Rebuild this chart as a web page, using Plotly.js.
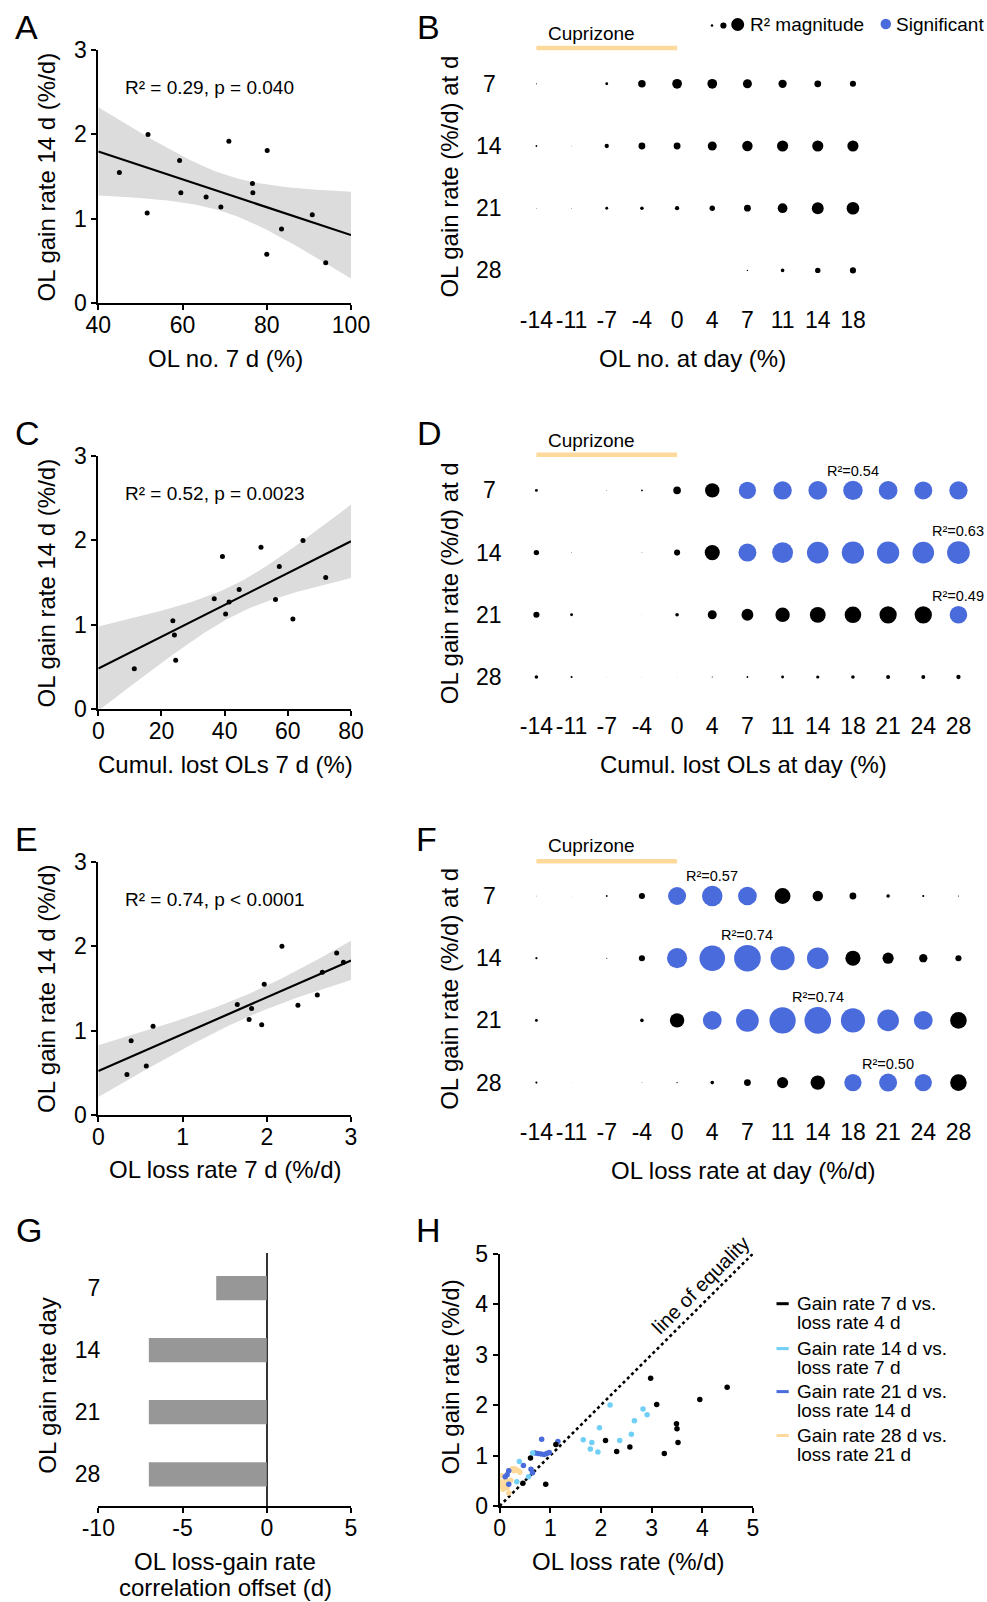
<!DOCTYPE html>
<html><head><meta charset="utf-8">
<script src="https://cdn.plot.ly/plotly-3.0.1.min.js"></script>
<style>html,body{margin:0;padding:0;background:#fff}#chart{width:987px;height:1602px}</style>
</head><body><div id="chart"></div>
<script>
// ================= DATA =================
// Panel A: OL no. at 7 d (%) vs OL gain rate 14 d (%/d)
const olNo7   = [45.0,51.8,51.6,59.3,59.6,65.6,69.1,71.0,76.6,76.7,80.1,80.0,83.5,90.8,94.0];
const gainA   = [1.55,2.00,1.07,1.69,1.31,1.26,1.14,1.92,1.42,1.31,1.81,0.58,0.88,1.05,0.48];
// Panel C: cumulative lost OLs 7 d (%) vs gain rate 14 d
const cumLost7 = [11.4,23.6,24.1,24.5,36.7,39.3,40.3,41.4,44.6,51.5,56.1,57.3,61.6,64.8,72.0];
const gainC    = [0.48,1.05,0.88,0.58,1.31,1.81,1.13,1.27,1.42,1.92,1.30,1.69,1.07,2.00,1.56];
// Panel E: OL loss rate 7 d (%/d) vs gain rate 14 d
const lossRate7 = [0.34,0.39,0.57,0.65,1.65,1.79,1.82,1.94,1.97,2.18,2.37,2.60,2.66,2.83,2.91];
const gainE     = [0.48,0.88,0.58,1.05,1.31,1.13,1.26,1.07,1.55,2.00,1.30,1.42,1.69,1.92,1.81];
const statsA = 'R² = 0.29, p = 0.040';
const statsC = 'R² = 0.52, p = 0.0023';
const statsE = 'R² = 0.74, p < 0.0001';

// Dot matrices: R² per (gain-rate day, predictor day)
const gainDays = ['7','14','21','28'];
const colsB  = ['-14','-11','-7','-4','0','4','7','11','14','18'];
const colsDF = ['-14','-11','-7','-4','0','4','7','11','14','18','21','24','28'];
const cuprizoneSpan = ['-14','0'];

const bR2_7  = [0.03,0.00,0.08,0.21,0.27,0.27,0.25,0.23,0.19,0.17];
const bR2_14 = [0.05,0.02,0.12,0.19,0.19,0.25,0.29,0.31,0.31,0.31];
const bR2_21 = [0.02,0.02,0.08,0.10,0.12,0.15,0.19,0.27,0.33,0.35];
const bR2_28 = [0.00,0.01,0.01,0.01,0.01,0.01,0.04,0.10,0.15,0.17];
const bSig_7  = [0,0,0,0,0,0,0,0,0,0];
const bSig_14 = [0,0,0,0,0,0,0,0,0,0];
const bSig_21 = [0,0,0,0,0,0,0,0,0,0];
const bSig_28 = [0,0,0,0,0,0,0,0,0,0];

const dR2_7  = [0.08,0.01,0.02,0.05,0.21,0.40,0.48,0.51,0.52,0.54,0.52,0.50,0.51];
const dR2_14 = [0.15,0.02,0.00,0.02,0.17,0.42,0.50,0.58,0.60,0.62,0.62,0.60,0.63];
const dR2_21 = [0.17,0.08,0.00,0.01,0.10,0.25,0.33,0.40,0.44,0.46,0.48,0.48,0.49];
const dR2_28 = [0.10,0.06,0.01,0.01,0.01,0.03,0.05,0.08,0.09,0.10,0.11,0.11,0.12];
const dSig_7  = [0,0,0,0,0,0,1,1,1,1,1,1,1];
const dSig_14 = [0,0,0,0,0,0,1,1,1,1,1,1,1];
const dSig_21 = [0,0,0,0,0,0,0,0,0,0,0,0,1];
const dSig_28 = [0,0,0,0,0,0,0,0,0,0,0,0,0];

const fR2_7  = [0.02,0.01,0.05,0.17,0.50,0.57,0.52,0.44,0.29,0.19,0.10,0.06,0.03];
const fR2_14 = [0.06,0.00,0.03,0.17,0.56,0.71,0.74,0.67,0.60,0.42,0.31,0.23,0.17];
const fR2_21 = [0.08,0.01,0.01,0.10,0.40,0.52,0.63,0.73,0.74,0.67,0.60,0.52,0.46];
const fR2_28 = [0.06,0.01,0.00,0.02,0.04,0.10,0.19,0.31,0.40,0.48,0.50,0.48,0.46];
const fSig_7  = [0,0,0,0,1,1,1,0,0,0,0,0,0];
const fSig_14 = [0,0,0,0,1,1,1,1,1,0,0,0,0];
const fSig_21 = [0,0,0,0,0,1,1,1,1,1,1,1,0];
const fSig_28 = [0,0,0,0,0,0,0,0,0,1,1,1,0];

// Panel G
const offsetDays = ['7','14','21','28'];
const offsets    = [-3,-7,-7,-7];

// Panel H
const h7x  = [2.98,3.10,3.95,4.49,3.49,3.50,3.52,2.09,2.57,2.31,3.25,1.11,0.61,0.46,0.91];
const h7y  = [2.53,2.01,2.11,2.35,1.63,1.53,1.26,1.30,1.17,1.08,1.04,1.22,0.95,0.45,0.43];
const h14x = lossRate7, h14y = gainE;
const h21x = [0.83,1.15,0.70,0.76,0.82,0.88,0.93,0.98,0.47,0.62,0.65,0.18,0.15,0.11,0.18];
const h21y = [1.32,1.28,1.05,1.04,1.03,1.02,1.04,1.06,0.80,0.73,0.66,0.70,0.62,0.58,0.43];
const h28x = [0.04,0.02,0.04,0.07,0.10,0.15,0.18,0.22,0.25,0.30,0.33,0.37,0.40,0.12,0.28];
const h28y = [0.60,0.48,0.38,0.33,0.42,0.36,0.26,0.51,0.74,0.74,0.72,0.70,0.67,0.52,0.70];
const hNames = ['Gain rate 7 d vs.\nloss rate 4 d','Gain rate 14 d vs.\nloss rate 7 d',
                'Gain rate 21 d vs.\nloss rate 14 d','Gain rate 28 d vs.\nloss rate 21 d'];
const equalityRange = [0, 5];

// ================= STYLE / LAYOUT =================
const PW = 987, PH = 1602;
const px = v => v / PW, py = v => 1 - v / PH;
const FONT = 'Liberation Sans, Arial, Helvetica, sans-serif';
const BLUE = '#4a6bdb', CYAN = '#6fcff7', YEL = '#fdd99b', GREY_BAND = '#dcdcdc';
const TICK = 23, TITLE = 24;

const traces = [];
const annotations = [];
const shapes = [];

function ann(text, x, y, o) {
  annotations.push(Object.assign({text, x: px(x), y: py(y), xref: 'paper', yref: 'paper',
    showarrow: false, xanchor: 'center', yanchor: 'middle',
    font: {family: FONT, size: TITLE, color: '#000'}}, o || {}));
}

function linAxis(d0, d1, range, tickvals, anchor, isY) {
  return {domain: isY ? [py(d1), py(d0)] : [px(d0), px(d1)], range, tickvals,
    ticktext: tickvals.map(String),
    showline: true, linecolor: '#000', linewidth: 2, ticks: 'outside', ticklen: 5, tickwidth: 2,
    tickcolor: '#000', showgrid: false, zeroline: false, anchor, fixedrange: true,
    ticklabelstandoff: isY ? 0 : -5,
    tickfont: {family: FONT, size: TICK, color: '#000'}};
}

// regression with 95% confidence band
function regression(xs, ys, xr, xa, ya) {
  const n = xs.length;
  const mx = xs.reduce((a, b) => a + b, 0) / n, my = ys.reduce((a, b) => a + b, 0) / n;
  let sxx = 0, sxy = 0;
  for (let i = 0; i < n; i++) { sxx += (xs[i] - mx) ** 2; sxy += (xs[i] - mx) * (ys[i] - my); }
  const b = sxy / sxx, a = my - b * mx;
  let ss = 0;
  for (let i = 0; i < n; i++) ss += (ys[i] - a - b * xs[i]) ** 2;
  const s = Math.sqrt(ss / (n - 2)), t = 2.160;
  const gx = [], lo = [], hi = [];
  const N = 80;
  for (let k = 0; k <= N; k++) {
    const x = xr[0] + (xr[1] - xr[0]) * k / N;
    const yh = a + b * x, se = s * Math.sqrt(1 / n + (x - mx) ** 2 / sxx);
    gx.push(x); lo.push(yh - t * se); hi.push(yh + t * se);
  }
  traces.push({type: 'scatter', mode: 'lines', x: gx.concat(gx.slice().reverse()),
    y: hi.concat(lo.slice().reverse()), fill: 'toself', fillcolor: GREY_BAND,
    line: {width: 0}, xaxis: xa, yaxis: ya, hoverinfo: 'skip', showlegend: false});
  traces.push({type: 'scatter', mode: 'lines', x: xr, y: xr.map(x => a + b * x),
    line: {color: '#000', width: 2.2}, xaxis: xa, yaxis: ya, showlegend: false});
  traces.push({type: 'scatter', mode: 'markers', x: xs, y: ys, cliponaxis: false,
    marker: {color: '#000', size: 5, opacity: 1}, xaxis: xa, yaxis: ya, showlegend: false});
}

const layout = {width: PW, height: PH, margin: {l: 0, r: 0, t: 0, b: 0},
  paper_bgcolor: '#fff', plot_bgcolor: 'rgba(0,0,0,0)', showlegend: false,
  font: {family: FONT, color: '#000'}};

// ---- A ----
layout.xaxis  = linAxis(98.3, 351, [40, 100], [40, 60, 80, 100], 'y');
layout.yaxis  = linAxis(50, 303.3, [0, 3], [0, 1, 2, 3], 'x', true);
regression(olNo7, gainA, [40, 100], 'x', 'y');
ann(statsA, 123, 87, {xanchor: 'left', font: {family: FONT, size: 19, color: '#000'}});
ann('OL no. 7 d (%)', 225, 358.5);
ann('OL gain rate 14 d (%/d)', 46.7, 176.7, {textangle: -90});
// ---- C ----
layout.xaxis3 = linAxis(98.3, 351, [0, 80], [0, 20, 40, 60, 80], 'y3');
layout.yaxis3 = linAxis(456, 709.3, [0, 3], [0, 1, 2, 3], 'x3', true);
regression(cumLost7, gainC, [0, 80], 'x3', 'y3');
ann(statsC, 123, 493.3, {xanchor: 'left', font: {family: FONT, size: 19, color: '#000'}});
ann('Cumul. lost OLs 7 d (%)', 225, 764);
ann('OL gain rate 14 d (%/d)', 46.7, 582.7, {textangle: -90});
// ---- E ----
layout.xaxis5 = linAxis(98.3, 351, [0, 3], [0, 1, 2, 3], 'y5');
layout.yaxis5 = linAxis(861.7, 1115, [0, 3], [0, 1, 2, 3], 'x5', true);
regression(lossRate7, gainE, [0, 3], 'x5', 'y5');
ann(statsE, 123, 899.3, {xanchor: 'left', font: {family: FONT, size: 19, color: '#000'}});
ann('OL loss rate 7 d (%/d)', 225, 1169);
ann('OL gain rate 14 d (%/d)', 46.7, 988.3, {textangle: -90});

// ---- dot matrices ----
function dotPanel(n, cols, r2rows, sigrows, x0, top, xTitle, xTitleX, xTitleY, cupY, cupTextY, labels) {
  const colW = 35.17, rowH = 62.2;
  const xa = 'x' + n, ya = 'y' + n;
  layout['xaxis' + n] = {domain: [px(x0 - colW / 2), px(x0 + colW * (cols.length - 0.5))],
    type: 'category', categoryorder: 'array', categoryarray: cols, range: [-0.5, cols.length - 0.5],
    showline: false, ticks: '', showgrid: false, zeroline: false, anchor: ya, fixedrange: true,
    ticklabelstandoff: 2, tickfont: {family: FONT, size: TICK, color: '#000'}};
  layout['yaxis' + n] = {domain: [py(top + rowH * 3.5), py(top - rowH / 2)],
    type: 'category', categoryorder: 'array', categoryarray: gainDays, range: [3.5, -0.5],
    showline: false, ticks: '', showgrid: false, zeroline: false, anchor: xa, fixedrange: true,
    showticklabels: false};
  // row labels, centred as in the original figure
  gainDays.forEach((d, r) => annotations.push({text: d, x: px(489.4), y: r, xref: 'paper', yref: ya,
    showarrow: false, xanchor: 'center', yanchor: 'middle', font: {family: FONT, size: TICK, color: '#000'}}));
  const x = [], y = [], s = [], c = [];
  r2rows.forEach((row, r) => row.forEach((v, i) => {
    x.push(cols[i]); y.push(gainDays[r]); s.push(v); c.push(sigrows[r][i] ? BLUE : '#000');
  }));
  traces.push({type: 'scatter', mode: 'markers', x, y, xaxis: xa, yaxis: ya, cliponaxis: false,
    marker: {size: s, sizemode: 'diameter', sizeref: 1 / 36, sizemin: 0, color: c, opacity: 1,
      line: {width: 0}}, showlegend: false});
  if (labels) {
    r2rows.forEach((row, r) => {
      let best = -1;
      row.forEach((v, i) => { if (sigrows[r][i] && (best < 0 || v >= row[best])) best = i; });
      if (best >= 0) annotations.push({text: 'R²=' + row[best].toFixed(2), x: best, y: r,
        xref: xa, yref: ya, showarrow: false, yshift: 18 * row[best] + 10,
        font: {family: FONT, size: 14.5, color: '#000'}});
    });
  }
  // cuprizone bar
  shapes.push({type: 'line', xref: xa, yref: 'paper', x0: cols.indexOf(cuprizoneSpan[0]),
    x1: cols.indexOf(cuprizoneSpan[1]), y0: py(cupY), y1: py(cupY),
    line: {color: YEL, width: 4.5}});
  ann('Cuprizone', 545.6, cupTextY, {xanchor: 'left', font: {family: FONT, size: 19, color: '#000'}});
  ann(xTitle, xTitleX, xTitleY);
  ann('OL gain rate (%/d) at d', 449.5, top + rowH * 1.5, {textangle: -90});
}
dotPanel(2, colsB, [bR2_7, bR2_14, bR2_21, bR2_28], [bSig_7, bSig_14, bSig_21, bSig_28],
  536.4, 83.8, 'OL no. at day (%)', 692.2, 358.6, 48, 33.7, false);
dotPanel(4, colsDF, [dR2_7, dR2_14, dR2_21, dR2_28], [dSig_7, dSig_14, dSig_21, dSig_28],
  536.4, 490.4, 'Cumul. lost OLs at day (%)', 743.3, 764.2, 454.7, 440.4, true);
dotPanel(6, colsDF, [fR2_7, fR2_14, fR2_21, fR2_28], [fSig_7, fSig_14, fSig_21, fSig_28],
  536.4, 896, 'OL loss rate at day (%/d)', 743.8, 1170.9, 861.3, 846, true);

// B legend
function circ(cx, cy, d, color) {
  shapes.push({type: 'circle', xref: 'paper', yref: 'paper', xsizemode: 'pixel', ysizemode: 'pixel',
    xanchor: px(cx), yanchor: py(cy), x0: -d / 2, x1: d / 2, y0: -d / 2, y1: d / 2,
    fillcolor: color, line: {width: 0}});
}
circ(712, 25.5, 2.6, '#000'); circ(723.4, 25.5, 6.2, '#000'); circ(737.7, 24.5, 13, '#000');
ann('R² magnitude', 748, 24.5, {xanchor: 'left', font: {family: FONT, size: 19, color: '#000'}});
circ(885.8, 24, 10.5, BLUE);
ann('Significant', 894, 24.5, {xanchor: 'left', font: {family: FONT, size: 19, color: '#000'}});

// ---- G ----
layout.xaxis7 = linAxis(98.3, 351, [-10, 5], [-10, -5, 0, 5], 'y7');
layout.xaxis7.zeroline = true; layout.xaxis7.zerolinecolor = '#333'; layout.xaxis7.zerolinewidth = 1.5;
layout.yaxis7 = {domain: [py(1506), py(1253)], type: 'category', categoryorder: 'array',
  categoryarray: offsetDays, range: [3.51, -0.564], showline: false, ticks: '', showgrid: false,
  zeroline: false, anchor: 'x7', fixedrange: true, ticklabelstandoff: -3,
  tickfont: {family: FONT, size: TICK, color: '#000'}};
traces.push({type: 'bar', orientation: 'h', x: offsets, y: offsetDays, width: 0.39,
  marker: {color: '#979797', line: {width: 0}}, xaxis: 'x7', yaxis: 'y7', showlegend: false});
ann('OL loss-gain rate', 225, 1561);
ann('correlation offset (d)', 225, 1587);
ann('OL gain rate day', 46.7, 1385, {textangle: -90});

// ---- H ----
layout.xaxis8 = linAxis(499.6, 753, [0, 5], [0, 1, 2, 3, 4, 5], 'y8');
layout.yaxis8 = linAxis(1253.6, 1506, [0, 5], [0, 1, 2, 3, 4, 5], 'x8', true);
traces.push({type: 'scatter', mode: 'lines', x: equalityRange, y: equalityRange,
  line: {color: '#000', width: 2.6, dash: 'dot'}, xaxis: 'x8', yaxis: 'y8', showlegend: false});
const hSets = [[h7x, h7y, '#000'], [h14x, h14y, CYAN], [h21x, h21y, BLUE], [h28x, h28y, YEL]];
hSets.slice().reverse().forEach(([xs, ys, col]) => traces.push({type: 'scatter', mode: 'markers',
  x: xs, y: ys, cliponaxis: false, marker: {color: col, size: 5.5, opacity: 1, line: {width: 0}},
  xaxis: 'x8', yaxis: 'y8', showlegend: false}));
annotations.push({text: 'line of equality', x: 3.97, y: 4.37, xref: 'x8', yref: 'y8',
  showarrow: false, textangle: -45, font: {family: FONT, size: 20, color: '#000'}});
ann('OL loss rate (%/d)', 628.8, 1561);
ann('OL gain rate (%/d)', 449.5, 1377, {textangle: -90});
const legY = [1303.7, 1348.6, 1391.6, 1435.5];
hNames.forEach((nm, i) => {
  shapes.push({type: 'line', xref: 'paper', yref: 'paper', x0: px(776.5), x1: px(788.7),
    y0: py(legY[i]), y1: py(legY[i]), line: {color: hSets[i][2], width: 3}});
  nm.split('\n').forEach((ln, j) => ann(ln, 795, legY[i] + 18.5 * j,
    {xanchor: 'left', font: {family: FONT, size: 19, color: '#000'}}));
});

// ---- panel letters ----
[['A', 26.6, 26.6], ['B', 428, 26.6], ['C', 27.6, 433.2], ['D', 429, 433.2],
 ['E', 26.6, 838.8], ['F', 426, 838.8], ['G', 28.6, 1230], ['H', 428, 1230]]
  .forEach(([t, x, y]) => ann(t, x, y, {font: {family: FONT, size: 34, color: '#000'}}));

layout.annotations = annotations;
layout.shapes = shapes;
Plotly.newPlot('chart', traces, layout, {staticPlot: true, displayModeBar: false});
</script></body></html>
